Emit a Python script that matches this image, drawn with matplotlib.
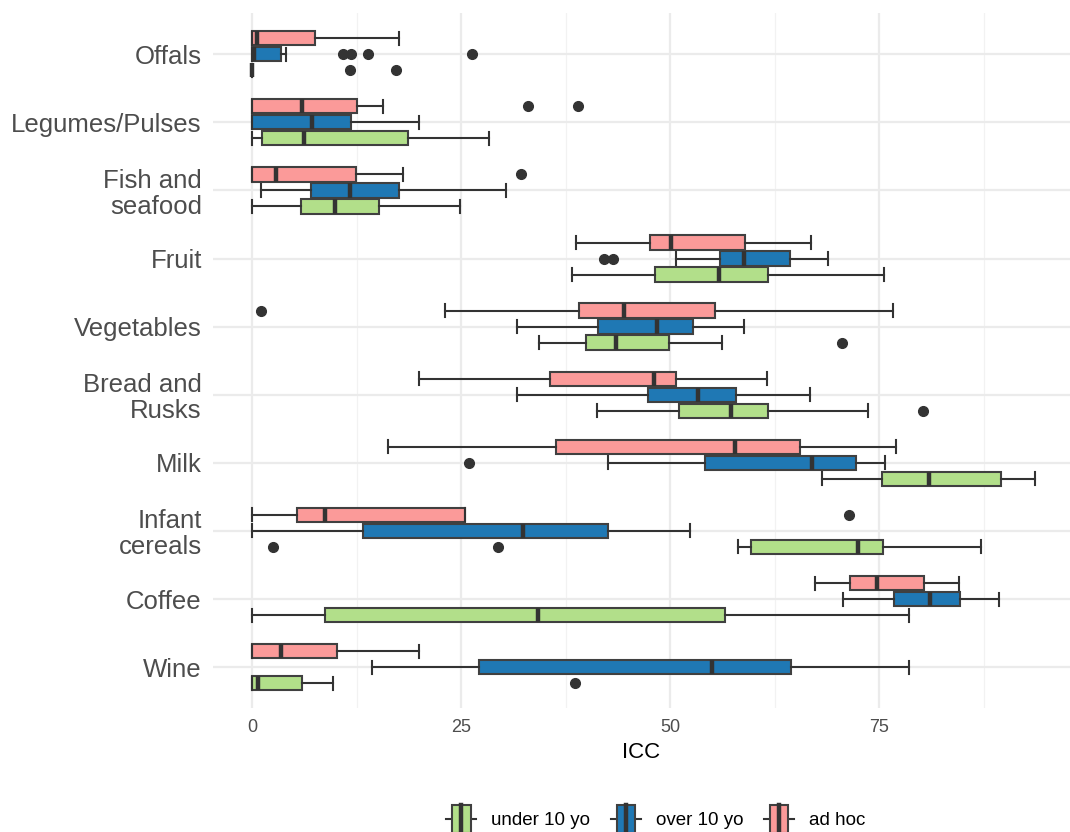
import matplotlib
matplotlib.use("Agg")
import matplotlib.pyplot as plt
from matplotlib.legend_handler import HandlerBase
from matplotlib.patches import Patch, Rectangle
from matplotlib.lines import Line2D

plt.rcParams['font.family'] = ['Liberation Sans', 'DejaVu Sans']

# categories, top to bottom
categories = ['Offals', 'Legumes/Pulses', 'Fish and\nseafood', 'Fruit', 'Vegetables',
              'Bread and\nRusks', 'Milk', 'Infant\ncereals', 'Coffee', 'Wine']

groups = ['under 10 yo', 'over 10 yo', 'ad hoc']
colors = {'under 10 yo': '#B2DF8A', 'over 10 yo': '#1F78B4', 'ad hoc': '#FB9A99'}

# per-group stats in category order: whisker low, Q1, median, Q3, whisker high
under_lo = [0, 0, 0, 38.2, 34.3, 41.2, 68.1, 58.1, 0, 0]
under_q1 = [0, 1.2, 5.8, 48.2, 39.9, 51.0, 75.3, 59.7, 8.7, 0]
under_med = [0, 6.2, 9.95, 55.8, 43.5, 57.2, 80.9, 72.5, 34.2, 0.74]
under_q3 = [0, 18.6, 15.2, 61.7, 49.9, 61.7, 89.6, 75.4, 56.6, 5.9]
under_hi = [0, 28.3, 24.9, 75.5, 56.2, 73.6, 93.6, 87.1, 78.6, 9.7]
under_fliers = [[11.7, 17.2], [], [], [], [70.5], [80.2], [], [2.5, 29.4], [], [38.6]]

over_lo = [0, 0, 1.06, 50.7, 31.7, 31.7, 42.6, 0, 70.7, 14.3]
over_q1 = [0, 0, 7.0, 55.9, 41.4, 47.3, 54.2, 13.3, 76.8, 27.1]
over_med = [0.2, 7.2, 11.7, 58.8, 48.4, 53.3, 66.9, 32.4, 81.0, 55.0]
over_q3 = [3.4, 11.8, 17.6, 64.3, 52.7, 57.8, 72.2, 42.5, 84.6, 64.4]
over_hi = [4.0, 20.0, 30.3, 68.9, 58.8, 66.7, 75.7, 52.3, 89.3, 78.5]
over_fliers = [[10.8, 11.8, 13.9, 26.3], [], [], [42.1, 43.2], [], [], [25.9], [], [], []]

adhoc_lo = [0, 0, 0, 38.7, 23.0, 20.0, 16.2, 0, 67.3, 0]
adhoc_q1 = [0, 0, 0, 47.6, 39.1, 35.6, 36.3, 5.4, 71.5, 0]
adhoc_med = [0.6, 5.96, 2.85, 50.1, 44.5, 48.0, 57.7, 8.7, 74.7, 3.4]
adhoc_q3 = [7.5, 12.5, 12.4, 58.9, 55.3, 50.7, 65.5, 25.5, 80.3, 10.1]
adhoc_hi = [17.6, 15.6, 18.0, 66.8, 76.6, 61.6, 77.0, 25.5, 84.5, 19.9]
adhoc_fliers = [[], [33.0, 39.0], [32.1], [], [1.06], [], [], [71.4], [], []]

series = {
    'under 10 yo': (under_lo, under_q1, under_med, under_q3, under_hi, under_fliers),
    'over 10 yo': (over_lo, over_q1, over_med, over_q3, over_hi, over_fliers),
    'ad hoc': (adhoc_lo, adhoc_q1, adhoc_med, adhoc_q3, adhoc_hi, adhoc_fliers),
}
offsets = {'under 10 yo': 0.235, 'over 10 yo': 0.0, 'ad hoc': -0.235}

edge = '#333333'
lw = 1.5

fig = plt.figure(figsize=(10.7, 8.32), dpi=100)
ax = fig.add_axes([0.199, 0.149, 0.801, 0.835])

for g in groups:
    lo, q1, med, q3, hi, fl = series[g]
    stats = []
    for i in range(len(categories)):
        stats.append(dict(whislo=lo[i], q1=q1[i], med=med[i], q3=q3[i], whishi=hi[i], fliers=fl[i]))
    pos = [i + offsets[g] for i in range(len(categories))]
    ax.bxp(stats, positions=pos, widths=0.21, orientation='horizontal', patch_artist=True,
           capwidths=0.19, manage_ticks=False,
           boxprops=dict(facecolor=colors[g], edgecolor='#404040', linewidth=lw),
           medianprops=dict(color=edge, linewidth=3.2, solid_capstyle='butt'),
           whiskerprops=dict(color=edge, linewidth=lw),
           capprops=dict(color=edge, linewidth=lw),
           flierprops=dict(marker='o', markerfacecolor=edge, markeredgecolor=edge, markersize=7))

ax.set_xlim(-4.7, 97.8)
ax.set_ylim(len(categories) - 1 + 0.6, -0.6)
ax.set_yticks(range(len(categories)))
ax.set_yticklabels(categories, fontsize=18.5, color='#4D4D4D', linespacing=1.1)
ax.set_xticks([0, 25, 50, 75])
ax.set_xticks([12.5, 37.5, 62.5, 87.5], minor=True)
ax.tick_params(axis='x', labelsize=13, colors='#4D4D4D', length=0, pad=8)
ax.tick_params(axis='y', length=0, pad=8)
ax.tick_params(which='minor', length=0)
ax.grid(True, which='major', color='#EBEBEB', linewidth=1.6)
ax.grid(True, which='minor', axis='x', color='#F2F2F2', linewidth=0.9)
ax.set_axisbelow(True)
for s in ax.spines.values():
    s.set_visible(False)
ax.set_xlabel('ICC', fontsize=16, color='black', labelpad=4)


class BoxHandler(HandlerBase):
    def create_artists(self, legend, orig_handle, xdescent, ydescent, width, height, fontsize, trans):
        cx = width / 2 - xdescent
        cy = height / 2 - ydescent
        bw = width * 0.62
        bh = height * 1.45
        stub = Line2D([-xdescent, width - xdescent], [cy, cy], color=edge, lw=lw, transform=trans)
        box = Rectangle((cx - bw / 2, cy - bh / 2), bw, bh, facecolor=orig_handle.get_facecolor(),
                        edgecolor='#404040', lw=lw, transform=trans)
        mid = Line2D([cx, cx], [cy - bh / 2, cy + bh / 2], color=edge, lw=3.2, transform=trans)
        return [stub, box, mid]


handles = [Patch(facecolor=colors[g]) for g in groups]
fig.legend(handles, groups, loc='center', bbox_to_anchor=(656 / 1070, 1 - 819 / 832), ncol=3,
           frameon=False, fontsize=13.5, handler_map={Patch: BoxHandler()},
           handlelength=1.6, handleheight=1.2, handletextpad=0.8, columnspacing=1.1)

plt.savefig('out.png', dpi=100)
